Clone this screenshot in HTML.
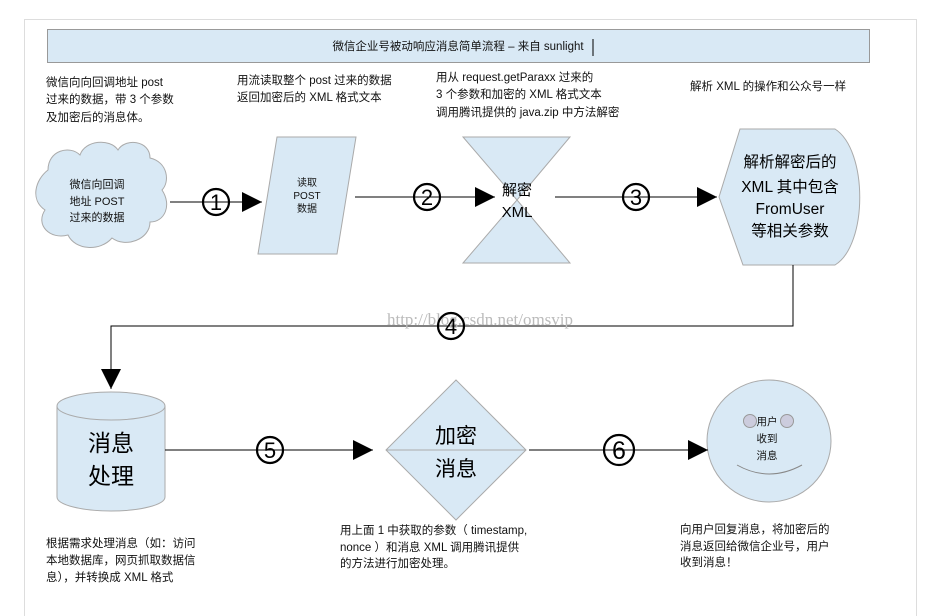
<!DOCTYPE html>
<html><head><meta charset="utf-8"><style>
html,body{margin:0;padding:0;background:#fff;}
svg{display:block;font-family:"Liberation Sans","Noto Sans CJK SC",sans-serif;}
</style></head><body>
<svg width="935" height="616" viewBox="0 0 935 616" xmlns="http://www.w3.org/2000/svg">
<defs>
<marker id="ah" viewBox="0 0 10 10" refX="10" refY="5" markerWidth="20" markerHeight="20" markerUnits="userSpaceOnUse" orient="auto"><path d="M0,0 L10,5 L0,10 z" fill="#000"/></marker>
</defs>
<rect x="24.5" y="19.5" width="892" height="610" fill="none" stroke="#ddd"/>
<rect x="47.5" y="29.5" width="822" height="33" fill="#d9e9f5" stroke="#999"/>
<text x="458" y="50" font-size="11.5" text-anchor="middle" fill="#111">微信企业号被动响应消息简单流程 – 来自 sunlight</text>
<line x1="593" y1="39" x2="593" y2="56" stroke="#000"/>
<g font-size="11.5" fill="#111">
<text x="46" y="86">微信向向回调地址 post</text>
<text x="46" y="103">过来的数据，带 3 个参数</text>
<text x="46" y="121">及加密后的消息体。</text>
<text x="237" y="84">用流读取整个 post 过来的数据</text>
<text x="237" y="101">返回加密后的 XML 格式文本</text>
<text x="436" y="81">用从 request.getParaxx 过来的</text>
<text x="436" y="98">3 个参数和加密的 XML 格式文本</text>
<text x="436" y="116">调用腾讯提供的 java.zip 中方法解密</text>
<text x="690" y="90">解析 XML 的操作和公众号一样</text>
</g>
<path d="M48,170 C48,150 70,145 80,155 C85,140 110,138 118,150 C125,138 150,140 150,158 C168,162 170,182 162,190 C172,205 165,222 150,222 C150,240 125,248 112,238 C100,252 75,250 68,235 C50,240 35,225 45,210 C30,200 35,180 48,170 Z" fill="#d9e9f5" stroke="#aaa"/>
<g font-size="11" text-anchor="middle" fill="#111">
<text x="97" y="188">微信向回调</text>
<text x="97" y="205">地址 POST</text>
<text x="97" y="221">过来的数据</text>
</g>
<polygon points="277,137 356,137 337,254 258,254" fill="#d9e9f5" stroke="#aaa"/>
<g font-size="10" text-anchor="middle" fill="#111">
<text x="307" y="186">读取</text>
<text x="307" y="199">POST</text>
<text x="307" y="212">数据</text>
</g>
<polygon points="463,137 570,137 517,200 570,263 463,263 517,200" fill="#d9e9f5" stroke="#aaa"/>
<g font-size="15" text-anchor="middle" fill="#000">
<text x="517" y="195">解密</text>
<text x="517" y="217">XML</text>
</g>
<path d="M740,129 L835,129 C868,150 868,245 835,265 L743,265 L719,197 Z" fill="#d9e9f5" stroke="#aaa"/>
<g font-size="15.5" text-anchor="middle" fill="#000">
<text x="790" y="167">解析解密后的</text>
<text x="790" y="192">XML 其中包含</text>
<text x="790" y="214">FromUser</text>
<text x="790" y="236">等相关参数</text>
</g>
<line x1="170" y1="202" x2="262" y2="202" stroke="#000" marker-end="url(#ah)"/>
<line x1="355" y1="197" x2="495" y2="197" stroke="#000" marker-end="url(#ah)"/>
<line x1="555" y1="197" x2="717" y2="197" stroke="#000" marker-end="url(#ah)"/>
<polyline points="793,265 793,326 111,326 111,389" fill="none" stroke="#000" marker-end="url(#ah)"/>
<text x="480" y="325" font-size="17" fill="#bbb" text-anchor="middle" font-family="Liberation Serif,serif">http://blog.csdn.net/omsvip</text>
<path d="M57,406 L57,497 A54,14 0 0 0 165,497 L165,406" fill="#d9e9f5" stroke="#aaa"/>
<ellipse cx="111" cy="406" rx="54" ry="14" fill="#d9e9f5" stroke="#aaa"/>
<g font-size="23" text-anchor="middle" fill="#000">
<text x="111" y="451">消息</text>
<text x="111" y="484">处理</text>
</g>
<polygon points="456,380 526,450 456,520 386,450" fill="#d9e9f5" stroke="#aaa"/>
<line x1="386" y1="450" x2="526" y2="450" stroke="#aaa"/>
<g font-size="21" text-anchor="middle" fill="#000">
<text x="456" y="443">加密</text>
<text x="456" y="476">消息</text>
</g>
<ellipse cx="769" cy="441" rx="62" ry="61" fill="#d9e9f5" stroke="#aaa"/>
<circle cx="750" cy="421" r="6.5" fill="#ccd" stroke="#999"/>
<circle cx="787" cy="421" r="6.5" fill="#ccd" stroke="#999"/>
<g font-size="10.5" text-anchor="middle" fill="#111">
<text x="767" y="425">用户</text>
<text x="767" y="442">收到</text>
<text x="767" y="459">消息</text>
</g>
<path d="M737,465 Q769,483 802,465" fill="none" stroke="#888"/>
<line x1="165" y1="450" x2="373" y2="450" stroke="#000" marker-end="url(#ah)"/>
<line x1="529" y1="450" x2="708" y2="450" stroke="#000" marker-end="url(#ah)"/>
<g fill="none" stroke="#000" stroke-width="2.2">
<circle cx="216" cy="202" r="13"/>
<circle cx="427" cy="197" r="13"/>
<circle cx="636" cy="197" r="13"/>
<circle cx="451" cy="326" r="13"/>
<circle cx="270" cy="450" r="13"/>
<circle cx="619" cy="450" r="15"/>
</g>
<g font-size="22" text-anchor="middle" fill="#000">
<text x="216" y="210">1</text>
<text x="427" y="205">2</text>
<text x="636" y="205">3</text>
<text x="451" y="334">4</text>
<text x="270" y="458">5</text>
<text x="619" y="459" font-size="25">6</text>
</g>
<g font-size="11.5" fill="#111">
<text x="46" y="547">根据需求处理消息（如：访问</text>
<text x="46" y="564">本地数据库，网页抓取数据信</text>
<text x="46" y="581">息），并转换成 XML 格式</text>
<text x="340" y="534">用上面 1 中获取的参数（ timestamp,</text>
<text x="340" y="551">nonce ）和消息 XML 调用腾讯提供</text>
<text x="340" y="567">的方法进行加密处理。</text>
<text x="680" y="533">向用户回复消息，将加密后的</text>
<text x="680" y="550">消息返回给微信企业号，用户</text>
<text x="680" y="566">收到消息！</text>
</g>
</svg>
</body></html>
